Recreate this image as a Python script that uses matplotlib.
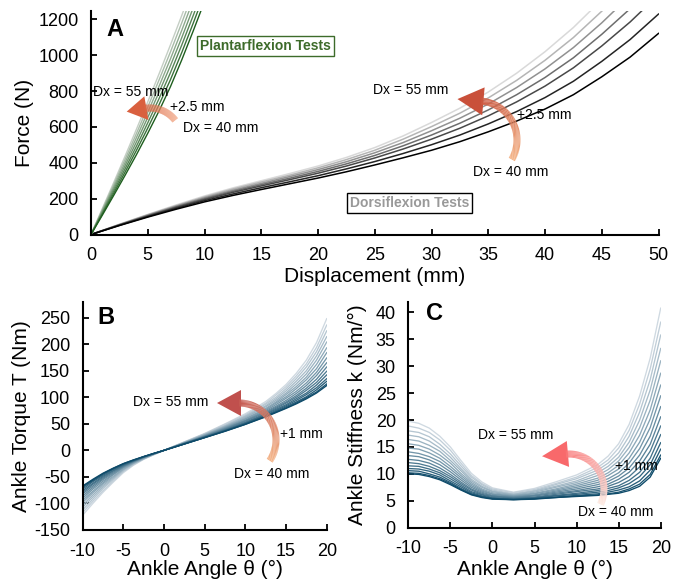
import numpy as np
import matplotlib
matplotlib.use("Agg")
import matplotlib.pyplot as plt
from matplotlib.collections import LineCollection
from matplotlib.patches import Polygon
from matplotlib.colors import LinearSegmentedColormap

plt.rcParams["font.family"] = ["Liberation Sans", "DejaVu Sans"]
plt.rcParams["axes.unicode_minus"] = False

# ---- Panel A: plantarflexion tests (force N vs displacement mm), Dx = 40 .. 55 mm ----
disp_plantar = [0, 1, 2, 3, 4, 5, 6, 7, 8, 9, 10]
plantar_40 = [0, 108, 218, 330, 445, 565, 690, 825, 975, 1135, 1300]
plantar_425 = [0, 114, 230, 348, 469, 594, 725, 864, 1016, 1178, 1345]
plantar_45 = [0, 120, 242, 366, 492, 623, 759, 903, 1058, 1221, 1389]
plantar_475 = [0, 127, 254, 384, 516, 653, 794, 942, 1099, 1264, 1434]
plantar_50 = [0, 133, 266, 401, 540, 682, 828, 980, 1140, 1307, 1479]
plantar_525 = [0, 139, 278, 419, 563, 711, 863, 1019, 1182, 1350, 1523]
plantar_55 = [0, 145, 290, 437, 587, 740, 897, 1058, 1223, 1393, 1568]

# ---- Panel A: dorsiflexion tests ----
disp_dorsi = [0, 2.5, 5, 7.5, 10, 12.5, 15, 17.5, 20, 22.5, 25, 27.5, 30, 32.5, 35, 37.5, 40, 42.5, 45, 47.5, 50]
dorsi_40 = [0, 50, 97, 141, 182, 218, 251, 283, 315, 350, 388, 428, 470, 518, 573, 633, 700, 780, 880, 990, 1122]
dorsi_425 = [0, 51, 100, 146, 189, 226, 261, 294, 328, 366, 407, 452, 501, 555, 617, 686, 764, 855, 966, 1088, 1230]
dorsi_45 = [0, 53, 103, 151, 195, 235, 271, 306, 342, 382, 427, 477, 532, 593, 662, 740, 828, 930, 1052, 1186, 1337]
dorsi_475 = [0, 54, 105, 154, 200, 241, 278, 314, 352, 394, 441, 495, 555, 621, 695, 780, 876, 986, 1117, 1260, 1418]
dorsi_50 = [0, 55, 108, 158, 205, 247, 285, 323, 362, 406, 456, 513, 579, 649, 728, 820, 924, 1043, 1181, 1333, 1499]
dorsi_525 = [0, 56, 110, 161, 210, 254, 293, 331, 372, 418, 470, 532, 602, 677, 762, 860, 972, 1099, 1246, 1407, 1579]
dorsi_55 = [0, 57, 112, 165, 215, 260, 300, 340, 382, 430, 485, 550, 625, 705, 795, 900, 1020, 1155, 1310, 1480, 1660]

# ---- Panels B and C: ankle angle (deg), Dx = 40 .. 55 mm in 1 mm steps ----
angle = [-10, -8.75, -7.5, -6.25, -5, -3.75, -2.5, -1.25, 0, 2.5, 5, 7.5, 10, 12.5, 13.75, 15, 16.25, 17.5, 18.75, 20]

torque_40 = [-67, -54.5, -43, -33.5, -25, -18, -11.5, -5.5, 0, 12, 24, 36, 49, 63, 71, 79, 87.5, 97, 108, 122]
torque_41 = [-68, -56, -44, -34, -25, -18, -12, -6, 0, 12, 24, 36, 49, 64, 72, 80, 89, 99, 110, 125]
torque_42 = [-70, -57, -45, -35, -26, -19, -12, -6, 0, 12, 24, 37, 50, 65, 73, 82, 91, 101, 114, 130]
torque_43 = [-73, -59, -47, -36, -27, -19, -12, -6, 0, 12, 25, 37, 51, 66, 75, 84, 94, 105, 118, 135]
torque_44 = [-76, -62, -49, -38, -28, -20, -12, -6, 0, 13, 25, 38, 52, 68, 77, 86, 97, 108, 123, 142]
torque_45 = [-79, -64, -51, -39, -29, -20, -13, -6, 0, 13, 26, 39, 53, 69, 79, 89, 100, 113, 128, 149]
torque_46 = [-82, -67, -53, -41, -30, -21, -13, -6, 0, 13, 26, 40, 55, 71, 81, 91, 103, 117, 134, 157]
torque_47 = [-86, -70, -55, -43, -31, -21, -13, -6, 0, 13, 27, 41, 56, 73, 83, 94, 107, 122, 141, 165]
torque_48 = [-90, -73, -58, -45, -32, -22, -14, -7, 0, 14, 27, 42, 57, 75, 86, 98, 111, 127, 147, 174]
torque_49 = [-94, -77, -61, -46, -33, -23, -14, -7, 0, 14, 28, 43, 59, 77, 89, 101, 116, 133, 154, 184]
torque_50 = [-98, -80, -63, -49, -35, -24, -15, -7, 0, 14, 29, 44, 60, 79, 91, 105, 120, 138, 162, 193]
torque_51 = [-103, -84, -66, -51, -36, -24, -15, -7, 0, 15, 29, 45, 62, 82, 94, 108, 125, 144, 170, 204]
torque_52 = [-107, -88, -69, -53, -37, -25, -16, -7, 0, 15, 30, 46, 64, 84, 97, 112, 130, 150, 178, 214]
torque_53 = [-112, -92, -72, -55, -39, -26, -16, -8, 0, 15, 31, 47, 65, 87, 100, 116, 135, 157, 186, 225]
torque_54 = [-117, -96, -76, -58, -40, -27, -16, -8, 0, 16, 31, 49, 67, 89, 104, 120, 140, 163, 194, 236]
torque_55 = [-122, -100, -79, -60, -42, -28, -17, -8, 0, 16, 32, 50, 69, 92, 107, 124, 145, 170, 203, 248]

stiff_40 = [10.0, 9.9, 9.5, 8.9, 8.0, 7.0, 6.1, 5.6, 5.3, 5.2, 5.3, 5.6, 5.8, 6.0, 6.2, 6.4, 6.9, 7.7, 9.4, 12.9]
stiff_41 = [10.2, 10.1, 9.7, 9.1, 8.2, 7.1, 6.2, 5.7, 5.4, 5.2, 5.4, 5.6, 5.9, 6.1, 6.3, 6.6, 7.2, 8.1, 9.9, 13.5]
stiff_42 = [10.6, 10.5, 10.0, 9.4, 8.4, 7.3, 6.3, 5.8, 5.4, 5.3, 5.4, 5.7, 6.0, 6.3, 6.6, 7.0, 7.6, 8.7, 10.7, 14.6]
stiff_43 = [11.0, 10.9, 10.5, 9.8, 8.7, 7.6, 6.5, 5.9, 5.5, 5.3, 5.5, 5.9, 6.2, 6.6, 6.9, 7.4, 8.2, 9.5, 11.7, 15.8]
stiff_44 = [11.5, 11.4, 10.9, 10.2, 9.1, 7.9, 6.7, 6.1, 5.6, 5.4, 5.6, 6.0, 6.4, 6.9, 7.3, 7.8, 8.8, 10.3, 12.9, 17.3]
stiff_45 = [12.1, 11.9, 11.4, 10.6, 9.5, 8.2, 7.0, 6.2, 5.8, 5.5, 5.7, 6.2, 6.7, 7.2, 7.7, 8.4, 9.5, 11.3, 14.2, 18.9]
stiff_46 = [12.7, 12.5, 12.0, 11.1, 9.9, 8.5, 7.2, 6.4, 5.9, 5.6, 5.9, 6.4, 6.9, 7.6, 8.1, 9.0, 10.3, 12.4, 15.5, 20.6]
stiff_47 = [13.4, 13.2, 12.6, 11.7, 10.4, 8.9, 7.5, 6.6, 6.0, 5.7, 6.0, 6.6, 7.2, 8.0, 8.6, 9.6, 11.1, 13.5, 17.0, 22.5]
stiff_48 = [14.1, 13.8, 13.2, 12.3, 10.9, 9.3, 7.8, 6.8, 6.2, 5.8, 6.1, 6.8, 7.5, 8.4, 9.1, 10.2, 12.0, 14.7, 18.6, 24.5]
stiff_49 = [14.8, 14.6, 13.9, 12.9, 11.4, 9.7, 8.1, 7.0, 6.3, 5.9, 6.3, 7.0, 7.8, 8.8, 9.7, 10.9, 12.9, 15.9, 20.2, 26.5]
stiff_50 = [15.6, 15.3, 14.6, 13.5, 12.0, 10.1, 8.4, 7.2, 6.5, 6.0, 6.4, 7.2, 8.1, 9.2, 10.2, 11.6, 13.9, 17.2, 21.9, 28.7]
stiff_51 = [16.4, 16.1, 15.3, 14.2, 12.5, 10.6, 8.7, 7.5, 6.7, 6.1, 6.6, 7.5, 8.4, 9.7, 10.8, 12.4, 14.9, 18.6, 23.7, 31.0]
stiff_52 = [17.2, 16.9, 16.1, 14.8, 13.1, 11.0, 9.0, 7.7, 6.8, 6.2, 6.8, 7.7, 8.7, 10.2, 11.4, 13.1, 15.9, 20.0, 25.6, 33.3]
stiff_53 = [18.0, 17.7, 16.9, 15.5, 13.7, 11.5, 9.4, 8.0, 7.0, 6.3, 6.9, 8.0, 9.1, 10.7, 12.0, 13.9, 17.0, 21.5, 27.5, 35.8]
stiff_54 = [18.9, 18.5, 17.7, 16.3, 14.4, 12.0, 9.7, 8.2, 7.2, 6.5, 7.1, 8.2, 9.4, 11.2, 12.6, 14.8, 18.1, 23.0, 29.5, 38.2]
stiff_55 = [19.8, 19.4, 18.5, 17.0, 15.0, 12.5, 10.1, 8.5, 7.4, 6.6, 7.3, 8.5, 9.8, 11.7, 13.3, 15.6, 19.2, 24.5, 31.5, 40.8]

plantar = [plantar_40, plantar_425, plantar_45, plantar_475, plantar_50, plantar_525, plantar_55]
dorsi = [dorsi_40, dorsi_425, dorsi_45, dorsi_475, dorsi_50, dorsi_525, dorsi_55]
torque = [torque_40, torque_41, torque_42, torque_43, torque_44, torque_45, torque_46, torque_47,
          torque_48, torque_49, torque_50, torque_51, torque_52, torque_53, torque_54, torque_55]
stiff = [stiff_40, stiff_41, stiff_42, stiff_43, stiff_44, stiff_45, stiff_46, stiff_47,
         stiff_48, stiff_49, stiff_50, stiff_51, stiff_52, stiff_53, stiff_54, stiff_55]

W, H = 683, 583
fig = plt.figure(figsize=(W / 100, H / 100), dpi=100)


def px_axes(left, top, right, bottom):
    return fig.add_axes([left / W, 1 - bottom / H, (right - left) / W, (bottom - top) / H])


def style_axes(ax):
    for s in ("top", "right"):
        ax.spines[s].set_visible(False)
    for s in ("left", "bottom"):
        ax.spines[s].set_linewidth(1.5)
    ax.tick_params(direction="in", length=4, width=1.3, labelsize=13, pad=9)


def txt(x, y, s, **kw):
    kw.setdefault("fontsize", 10)
    kw.setdefault("va", "center")
    fig.text(x / W, 1 - y / H, s, **kw)


def grad_arrow(cx, cy, r, a0, a1, c0, c1, lw=7, head_len=24, head_w=26):
    # arc in figure pixels (y from top), colour going from c0 (tail) to c1 (head)
    ang = np.radians(np.linspace(a0, a1, 80))
    xs = cx + r * np.cos(ang)
    ys = cy - r * np.sin(ang)
    pts = np.column_stack([xs / W, 1 - ys / H])
    segs = np.stack([pts[:-1], pts[1:]], axis=1)
    cmap = LinearSegmentedColormap.from_list("arr", [c0, c1])
    lc = LineCollection(segs, colors=cmap(np.linspace(0, 0.9, len(segs))),
                        linewidths=lw * 0.72, transform=fig.transFigure, capstyle="butt")
    fig.add_artist(lc)
    t = np.radians(a1)
    tx, ty = -np.sin(t), -np.cos(t)
    nx, ny = np.cos(t), -np.sin(t)
    bx, by = xs[-1] - 2 * tx, ys[-1] - 2 * ty
    head = [(bx + tx * head_len, by + ty * head_len),
            (bx + nx * head_w / 2, by + ny * head_w / 2),
            (bx - nx * head_w / 2, by - ny * head_w / 2)]
    head = [(x / W, 1 - y / H) for x, y in head]
    fig.add_artist(Polygon(head, closed=True, facecolor=c1, edgecolor="none",
                           transform=fig.transFigure))


# ---- Panel A ----
axA = px_axes(91, 10.5, 658.5, 234.5)
gray_cmap = LinearSegmentedColormap.from_list("gr", ["#000000", "#d9d9d9"])
green_cmap = LinearSegmentedColormap.from_list("gn", ["#1e5e1e", "#c5cfc5"])
for i in range(len(dorsi) - 1, -1, -1):
    axA.plot(disp_dorsi, dorsi[i], color=gray_cmap(i / 6), lw=1.1)
for i in range(len(plantar) - 1, -1, -1):
    axA.plot(disp_plantar, plantar[i], color=green_cmap(i / 6), lw=1.0)
axA.set_xlim(0, 50)
axA.set_ylim(0, 1250)
axA.set_xticks(range(0, 51, 5))
axA.set_yticks(range(0, 1201, 200))
style_axes(axA)
axA.set_xlabel("Displacement (mm)", fontsize=15, labelpad=2)
axA.set_ylabel("Force (N)", fontsize=15, labelpad=3)

# ---- Panel B ----
axB = px_axes(82.7, 301.7, 326.7, 530)
teal_cmap = LinearSegmentedColormap.from_list("tl", ["#0d4a69", "#cfd9e1"])
for i in range(len(torque) - 1, -1, -1):
    axB.plot(angle, torque[i], color=teal_cmap(i / 15), lw=0.95)
axB.set_xlim(-10, 20)
axB.set_ylim(-150, 280)
axB.set_xticks(range(-10, 21, 5))
axB.set_yticks(range(-150, 251, 50))
style_axes(axB)
axB.set_xlabel("Ankle Angle θ (°)", fontsize=15, labelpad=0)
axB.set_ylabel("Ankle Torque T (Nm)", fontsize=15, labelpad=2)

# ---- Panel C ----
axC = px_axes(408.3, 301.7, 660.7, 527.7)
for i in range(len(stiff) - 1, -1, -1):
    axC.plot(angle, stiff[i], color=teal_cmap(i / 15), lw=0.95)
axC.set_xlim(-10, 20)
axC.set_ylim(0, 42)
axC.set_xticks(range(-10, 21, 5))
axC.set_yticks(range(0, 41, 5))
style_axes(axC)
axC.set_xlabel("Ankle Angle θ (°)", fontsize=15, labelpad=2)
axC.set_ylabel("Ankle Stiffness k (Nm/°)", fontsize=15, labelpad=6)

# ---- panel letters ----
txt(106, 29, "A", fontsize=17, fontweight="bold")
txt(97, 317, "B", fontsize=17, fontweight="bold")
txt(426, 314, "C", fontsize=17, fontweight="bold")

# ---- boxed labels ----
txt(200, 46, "Plantarflexion Tests", fontsize=10, fontweight="bold", color="#3d6b2a",
    bbox=dict(boxstyle="square,pad=0.2", facecolor="white", edgecolor="#3d6b2a", lw=1))
txt(350, 203, "Dorsiflexion Tests", fontsize=10, fontweight="bold", color="#999999",
    bbox=dict(boxstyle="square,pad=0.2", facecolor="white", edgecolor="black", lw=1))

# ---- arrows ----
grad_arrow(150, 140, 32, 38, 100, "#f2a27f", "#d9603f", lw=7, head_len=20, head_w=24)
grad_arrow(478, 140, 39, -30, 85, "#f4b183", "#c9503a", lw=7, head_len=26, head_w=28)
grad_arrow(239, 440, 37, -34, 90, "#f4b183", "#c0504d", lw=7, head_len=24, head_w=26)
grad_arrow(569, 489, 35, -26, 95, "#fde9e0", "#f8696b", lw=7, head_len=26, head_w=26)

# ---- annotations ----
txt(93, 92, "Dx = 55 mm")
txt(170, 107, "+2.5 mm")
txt(183, 128, "Dx = 40 mm")
txt(373, 90, "Dx = 55 mm")
txt(517, 115, "+2.5 mm")
txt(473, 172, "Dx = 40 mm")
txt(133, 402, "Dx = 55 mm")
txt(280, 434, "+1 mm")
txt(234, 474, "Dx = 40 mm")
txt(478, 435, "Dx = 55 mm")
txt(615, 466, "+1 mm")
txt(578, 512, "Dx = 40 mm")

fig.savefig("out.png", dpi=100)
